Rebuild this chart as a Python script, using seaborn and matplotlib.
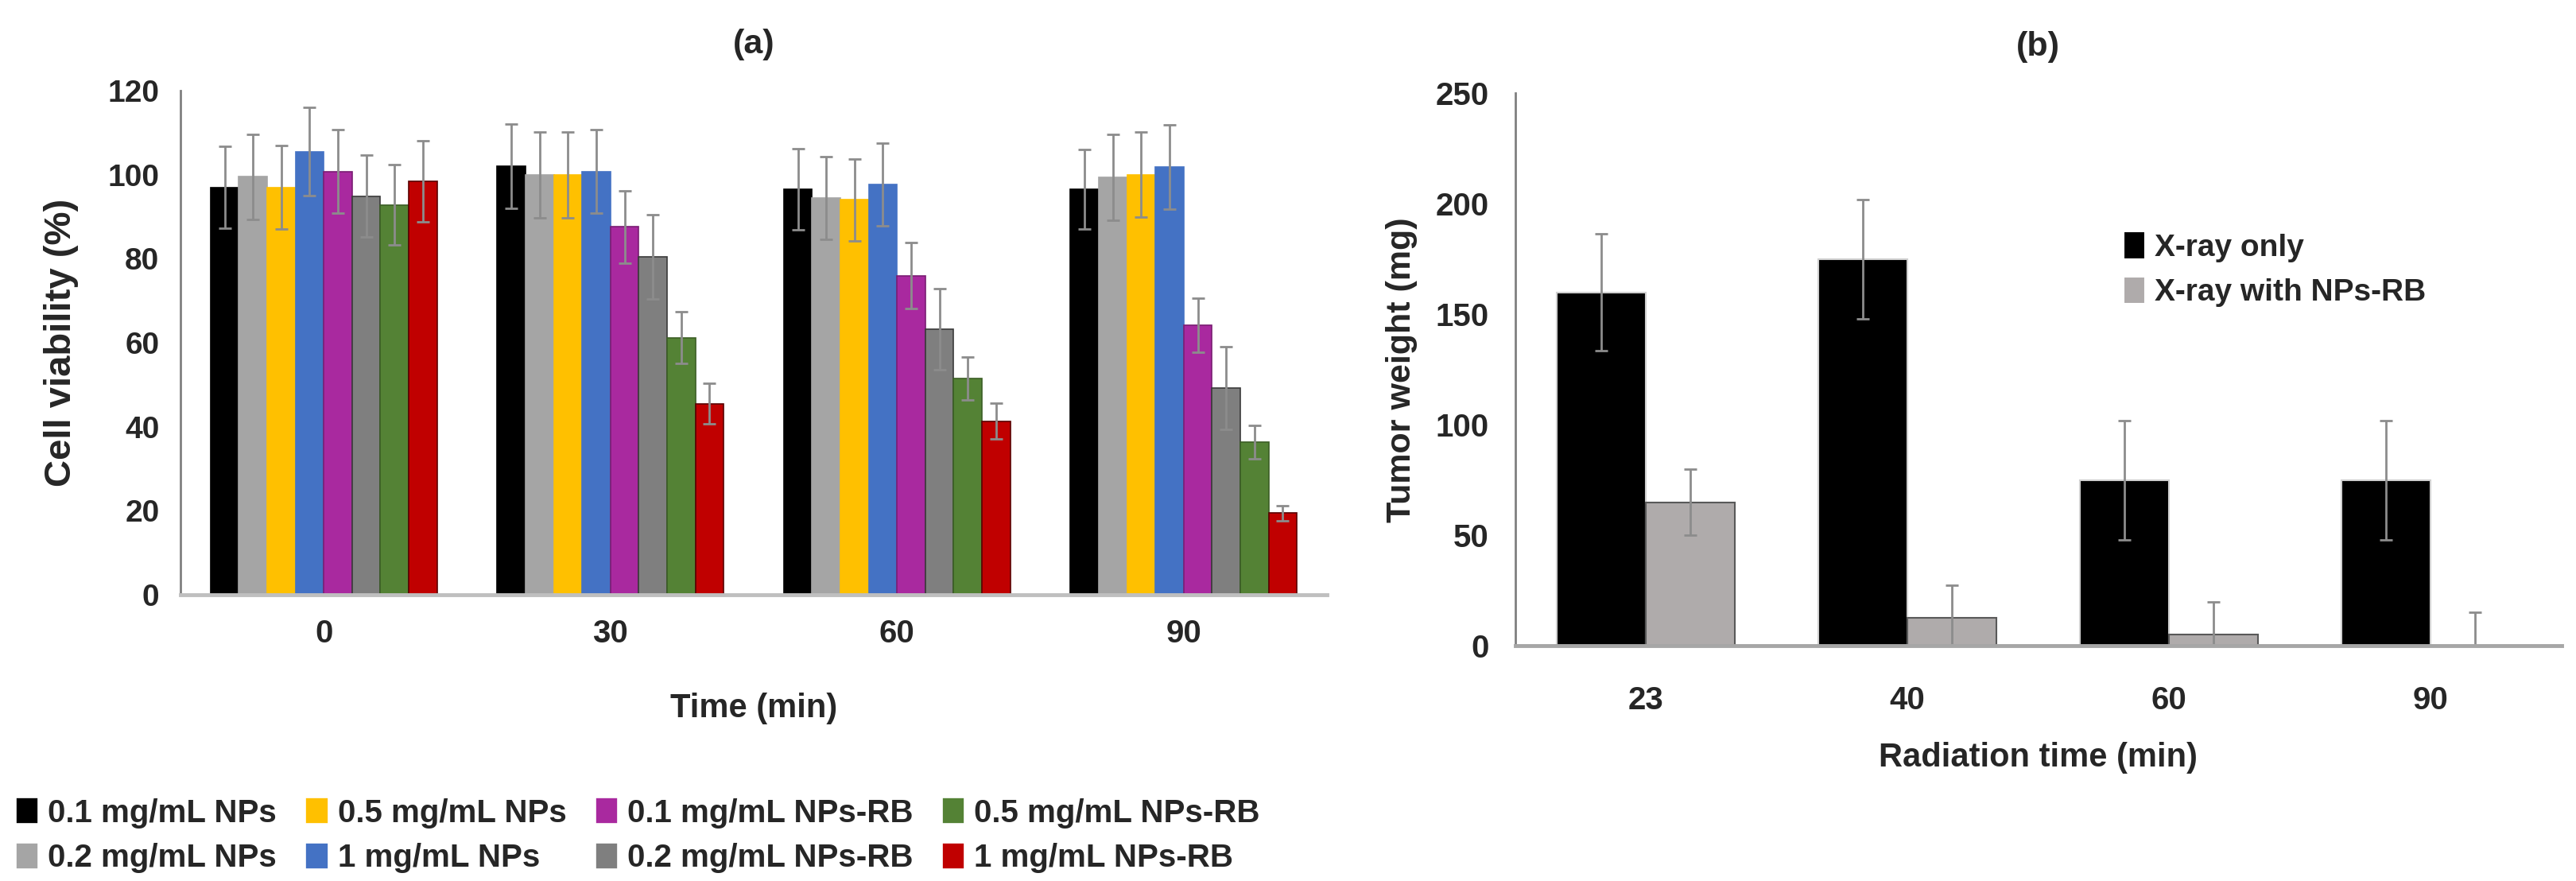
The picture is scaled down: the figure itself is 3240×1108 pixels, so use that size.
import matplotlib
matplotlib.use("Agg")
import matplotlib.pyplot as plt
import pandas as pd
import seaborn as sns

# ---- panel (a): cell viability ----
times = ["0", "30", "60", "90"]
series_a = [
    "0.1 mg/mL NPs", "0.2 mg/mL NPs", "0.5 mg/mL NPs", "1 mg/mL NPs",
    "0.1 mg/mL NPs-RB", "0.2 mg/mL NPs-RB", "0.5 mg/mL NPs-RB", "1 mg/mL NPs-RB",
]
colors_a = ["#000000", "#A5A5A5", "#FFC000", "#4472C4",
            "#A9299F", "#7F7F7F", "#548235", "#C00000"]
edges_a = ["#000000", "#A5A5A5", "#FFC000", "#4472C4",
           "#7A1D73", "#3A3A3A", "#3B5E25", "#5A0000"]

np01 = [97.0, 102.0, 96.5, 96.5]
np02 = [99.5, 100.0, 94.5, 99.4]
np05 = [97.0, 100.0, 94.0, 100.0]
np1 = [105.5, 100.8, 97.7, 101.9]
rb01 = [100.8, 87.6, 76.0, 64.2]
rb02 = [94.9, 80.4, 63.2, 49.2]
rb05 = [92.8, 61.2, 51.5, 36.3]
rb1 = [98.4, 45.5, 41.3, 19.4]

np01_err = [9.8, 10.0, 9.7, 9.5]
np02_err = [10.1, 10.2, 9.8, 10.2]
np05_err = [10.0, 10.2, 9.7, 10.1]
np1_err = [10.5, 10.0, 9.9, 10.0]
rb01_err = [10.0, 8.6, 7.8, 6.5]
rb02_err = [9.8, 10.0, 9.7, 9.8]
rb05_err = [9.6, 6.1, 5.1, 4.0]
rb1_err = [9.7, 4.8, 4.3, 1.8]

# ---- panel (b): tumor weight ----
rad_times = ["23", "40", "60", "90"]
series_b = ["X-ray only", "X-ray with NPs-RB"]
xray_only = [160, 175, 75, 75]
xray_rb = [65, 12.5, 5, 0]
xray_only_err = [26.5, 27, 27, 27]
xray_rb_err = [15, 15, 15, 15]

vals_a = [np01, np02, np05, np1, rb01, rb02, rb05, rb1]
errs_a = [np01_err, np02_err, np05_err, np1_err, rb01_err, rb02_err, rb05_err, rb1_err]
df_a = pd.DataFrame(
    [(t, s, v[i]) for s, v in zip(series_a, vals_a) for i, t in enumerate(times)],
    columns=["time", "series", "viability"],
)
df_b = pd.DataFrame(
    [(t, s, v[i]) for s, v in zip(series_b, [xray_only, xray_rb]) for i, t in enumerate(rad_times)],
    columns=["time", "series", "weight"],
)

sns.set_style("white")
plt.rcParams["font.family"] = ["Liberation Sans", "DejaVu Sans"]
plt.rcParams["font.weight"] = "bold"

fig = plt.figure(figsize=(32.41, 11.08), dpi=100)
ax_a = fig.add_axes([0.070, 0.325, 0.445, 0.572])
ax_b = fig.add_axes([0.588, 0.267, 0.406, 0.627])

ERR_COLOR = "#8C8C8C"

# (a)
sns.barplot(data=df_a, x="time", y="viability", hue="series", order=times,
            hue_order=series_a, palette=colors_a, saturation=1, errorbar=None,
            width=0.79, linewidth=1.2, ax=ax_a, legend=True)
for cont, err, ec in zip(ax_a.containers, errs_a, edges_a):
    for p in cont:
        p.set_edgecolor(ec)
    xs = [p.get_x() + p.get_width() / 2 for p in cont]
    ys = [p.get_height() for p in cont]
    ax_a.errorbar(xs, ys, yerr=err, fmt="none", ecolor=ERR_COLOR, elinewidth=2,
                  capsize=6, capthick=2)

ax_a.set_ylim(0, 120)
ax_a.set_xlim(-0.5, 3.5)
ax_a.set_yticks(range(0, 121, 20))
ax_a.set_yticks(range(10, 120, 20), minor=True)
ax_a.tick_params(axis="y", which="major", direction="inout", length=22, width=2,
                 color="#808080", labelsize=28, pad=8)
ax_a.tick_params(axis="y", which="minor", direction="inout", length=16, width=2,
                 color="#808080")
ax_a.tick_params(axis="x", length=0, labelsize=29, pad=22)
ax_a.set_xlabel("Time (min)", fontsize=30, fontweight="bold", labelpad=39)
ax_a.set_ylabel("Cell viability (%)", fontsize=34, fontweight="bold", labelpad=26)
ax_a.set_title("(a)", fontsize=31, fontweight="bold", pad=34)
for side in ["top", "right"]:
    ax_a.spines[side].set_visible(False)
ax_a.spines["left"].set_color("#808080")
ax_a.spines["left"].set_linewidth(2)
ax_a.spines["bottom"].set_color("#BFBFBF")
ax_a.spines["bottom"].set_linewidth(3.5)

handles, labels = ax_a.get_legend_handles_labels()
ax_a.get_legend().remove()
fig.legend(handles, labels, loc="lower left", bbox_to_anchor=(-0.005, -0.024), ncol=4,
           frameon=False, prop={"weight": "bold", "size": 29}, handlelength=0.7,
           handleheight=0.9, handletextpad=0.3, columnspacing=0.9, labelspacing=0.45)

# (b)
sns.barplot(data=df_b, x="time", y="weight", hue="series", order=rad_times,
            hue_order=series_b, palette=["#000000", "#AFABAB"], saturation=1,
            errorbar=None, width=0.68, linewidth=1.5, ax=ax_b, legend=True)
for p in ax_b.containers[0]:
    p.set_edgecolor("#D0D0D0")
for p in ax_b.containers[1]:
    p.set_edgecolor("#595959")
for cont, err in zip(ax_b.containers, [xray_only_err, xray_rb_err]):
    xs = [p.get_x() + p.get_width() / 2 for p in cont]
    ys = [p.get_height() for p in cont]
    ax_b.errorbar(xs, ys, yerr=err, fmt="none", ecolor=ERR_COLOR, elinewidth=2,
                  capsize=6, capthick=2)

ax_b.set_ylim(0, 250)
ax_b.set_xlim(-0.5, 3.5)
ax_b.set_yticks(range(0, 251, 50))
ax_b.tick_params(axis="y", direction="out", length=14, width=2, color="#808080",
                 labelsize=29, pad=10)
ax_b.tick_params(axis="x", length=0, labelsize=29, pad=36)
ax_b.set_xlabel("Radiation time (min)", fontsize=30, fontweight="bold", labelpad=24)
ax_b.set_ylabel("Tumor weight (mg)", fontsize=31, fontweight="bold", labelpad=16)
ax_b.set_title("(b)", fontsize=31, fontweight="bold", pad=34)
for side in ["top", "right"]:
    ax_b.spines[side].set_visible(False)
ax_b.spines["left"].set_color("#808080")
ax_b.spines["left"].set_linewidth(2)
ax_b.spines["bottom"].set_color("#A6A6A6")
ax_b.spines["bottom"].set_linewidth(3.5)
h_b, l_b = ax_b.get_legend_handles_labels()
ax_b.get_legend().remove()
ax_b.legend(h_b, l_b, loc="upper left", bbox_to_anchor=(0.555, 0.80), frameon=False,
            prop={"weight": "bold", "size": 28}, handlelength=0.7, handleheight=1.0,
            handletextpad=0.3, labelspacing=0.45)

fig.savefig("out.png", dpi=100)
